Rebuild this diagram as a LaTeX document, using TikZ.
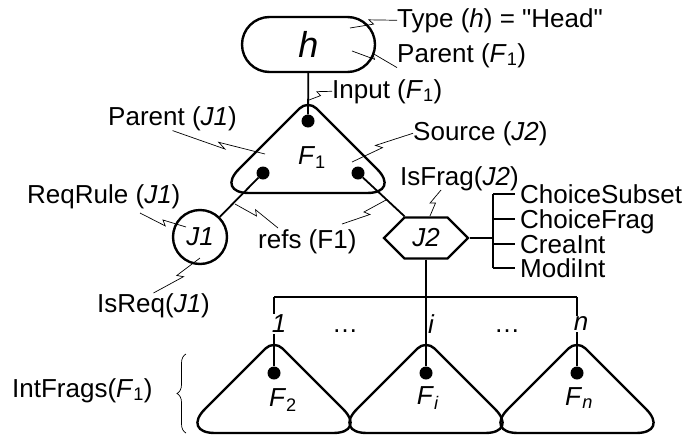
\documentclass[tikz,border=0pt]{standalone}
\usepackage{fontspec}
\setmainfont{Liberation Sans}[Ligatures=TeXOff]
\usetikzlibrary{calc,shapes.misc,shapes.symbols,decorations.pathreplacing}
\newcommand{\fsub}[1]{\textit{F}\textsubscript{#1}}
\begin{document}
\begin{tikzpicture}[x=1pt,y=-1pt,
  every node/.style={inner sep=0pt,font=\fontsize{26}{30}\selectfont},
  lbl/.style={anchor=base west},
  shp/.style={draw,line width=2.4pt},
  dot/.style={circle,fill,minimum size=13pt},
  conn/.style={line width=1.8pt},
  leader/.style={line width=0.7pt,to path={-- ($(\tikztostart)!.5!(\tikztotarget)$) -- ($(\tikztostart)!.42!(\tikztotarget)!5pt!90:(\tikztotarget)$) -- (\tikztotarget)}},
  fragtri/.pic={\draw[line width=2.4pt] (0,93) [rounded corners=34pt] -- (93,93) -- (37,37) [rounded corners=12pt] -- (0,0) -- (-37,37) [rounded corners=34pt] -- (-93,93) -- cycle;}]
\useasboundingbox (0,0) rectangle (692,434);
% head and first fragment
\node[shp,rounded rectangle,minimum width=133pt,minimum height=55pt,font=\fontsize{36}{40}\selectfont\itshape] (head) at (308.5,44.5) {h};
\pic at (308,100) {fragtri};
\node[dot] (adot) at (308,121) {};
\node[dot] (ldot) at (263,173) {};
\node[dot] (rdot) at (358,173) {};
\node (fone) at (312,158) {\fsub{1}};
\node[shp,circle,minimum size=54pt] (jone) at (200,237) {\textit{J1}};
\node[shp,signal,signal to=west and east,minimum width=84pt,minimum height=41pt] (jtwo) at (426,238) {\textit{J2}};
% interior fragments
\pic at (274,340) {fragtri};
\pic at (426,340) {fragtri};
\pic at (577,340) {fragtri};
\node[dot] (d1) at (274,373) {};
\node[dot] (di) at (426,373) {};
\node[dot] (dn) at (577,373) {};
\node (ftwo) at (283,400) {\fsub{2}};
\node (fi) at (428,398) {\fsub{\textit{i}}};
\node (fn) at (579,398) {\fsub{\textit{n}}};
% labels
\node[lbl] (type) at (397,27) {Type (\textit{h}) = "Head"};
\node[lbl] (parF) at (397,62) {Parent (\fsub{1})};
\node[lbl] (input) at (332,98) {Input (\fsub{1})};
\node[lbl] (parJ) at (108,125) {Parent (\textit{J1})};
\node[lbl] (source) at (413,140) {Source (\textit{J2})};
\node[lbl] (isfrag) at (400,185) {IsFrag(\textit{J2})};
\node[lbl] (reqrule) at (27,203) {ReqRule (\textit{J1})};
\node[lbl] (refs) at (258,248) {refs (F1)};
\node[lbl] (isreq) at (97,312) {IsReq(\textit{J1})};
\node[lbl] (csub) at (520,203) {ChoiceSubset};
\node[lbl] (cfrag) at (520,228) {ChoiceFrag};
\node[lbl] (crea) at (520,253) {CreaInt};
\node[lbl] (modi) at (520,277) {ModiInt};
\node[lbl] (intfr) at (12,397) {IntFrags(\fsub{1})};
% connectors
\coordinate (bl) at (274,297);
\coordinate (bm) at (426,297);
\coordinate (br) at (577,297);
\coordinate (kt) at (493,194);
\coordinate (km) at (493,238);
\coordinate (kb) at (493,268);
\draw[conn] (head)--(adot);
\draw[conn] (ldot)--(jone);
\draw[conn] (rdot)--($(jtwo.north)+(-21.5,0)$);
\draw[conn] (jtwo.east)--(km);\draw[conn] (kt)--(kb);
\foreach \y in {194,219,244,268} \draw[conn] (493,\y)--(515,\y);
\draw[conn] (jtwo.south)--(bm);\draw[conn] (bl)--(br);
\draw[conn] (bl)--(d1);\draw[conn] (bm)--(di);\draw[conn] (br)--(dn);
\node[fill=white,inner sep=1pt,font=\fontsize{26}{30}\selectfont\itshape] (n1) at (279,324) {1};
\node[fill=white,inner sep=1pt,font=\fontsize{26}{30}\selectfont\itshape] (ni) at (431,324) {i};
\node[fill=white,inner sep=1pt,font=\fontsize{26}{30}\selectfont\itshape] (nn) at (581,324) {n};
\node (e1) at (345,331) {\ldots};
\node (e2) at (507,331) {\ldots};
% leaders
\coordinate (ta) at (350,28);\coordinate (pa) at (352,51);\coordinate (ia) at (309,100);
\coordinate (pja) at (265,154);\coordinate (sa) at (352,162);
\coordinate (fa) at (430,216);\coordinate (fb) at (441,190);
\coordinate (ra) at (186,227);\coordinate (rb) at (140,213);
\coordinate (ea) at (235,204);\coordinate (eb) at (278,228);
\coordinate (ec) at (386,200);\coordinate (ed) at (342,224);
\coordinate (qa) at (200,258);
\draw[leader] (ta) to (type.west);
\draw[leader] (pa) to (parF.south west);
\draw[leader] (ia) to (input.west);
\draw[leader] (pja) to (parJ.south);
\draw[leader] (sa) to (source.west);
\draw[leader] (fa) to (fb);
\draw[leader] (ra) to (rb);
\draw[leader] (ea) to (eb);
\draw[leader] (ec) to (ed);
\draw[leader] (qa) to (isreq.north);
\draw[decorate,decoration={brace,amplitude=9pt},line width=0.7pt] (186,433)--(186,354);
\end{tikzpicture}
\end{document}
